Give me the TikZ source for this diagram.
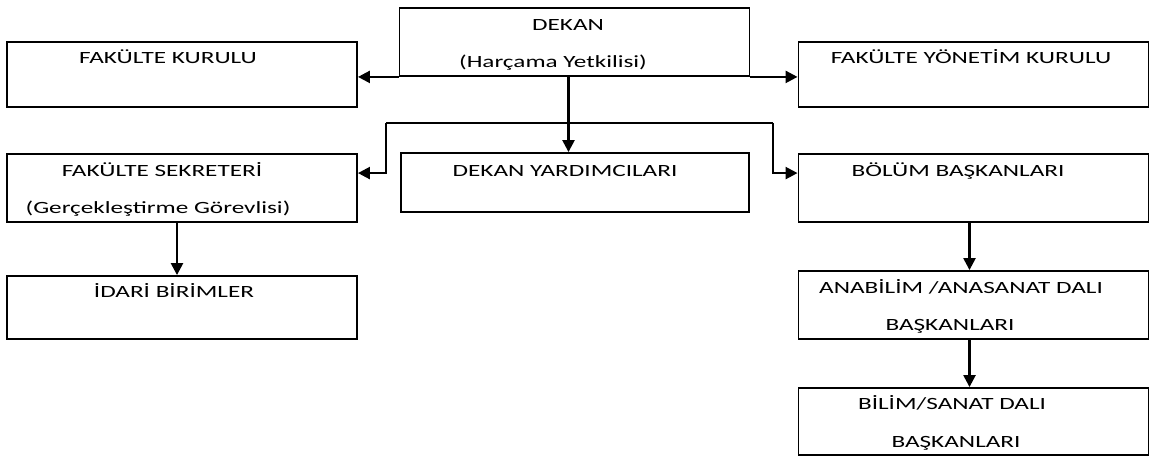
\documentclass[tikz,border=0pt]{standalone}
\usepackage{fontspec}
\setmainfont{Carlito}[FakeStretch=1.47]
\usetikzlibrary{calc, arrows.meta, positioning}

\begin{document}
\begin{tikzpicture}[x=0.025cm, y=-0.025cm,
  kutu/.style={draw, line width=1.3pt, minimum width=8.75cm, inner sep=0pt},
  yazi/.style={anchor=base, inner sep=0pt, font=\fontsize{12.2}{14}\selectfont},
  hat/.style={line width=1.7pt},
  ok/.style={hat, -{Triangle[length=0.3cm, width=0.3cm]}}]
\useasboundingbox (0,0) rectangle (1152,458);
% kutular
\node[kutu, minimum height=1.7cm]   (dekan) at (574.5,42) {};
\node[kutu, minimum height=1.625cm] (fk)    at (182,74.5) {};
\node[kutu, minimum height=1.625cm] (fyk)   at (973.5,74.5) {};
\node[kutu, minimum height=1.7cm]   (fs)    at (182,188) {};
\node[kutu, minimum height=1.475cm, minimum width=8.7cm] (dy) at (575,182.5) {};
\node[kutu, minimum height=1.7cm]   (bb)    at (973.5,188) {};
\node[kutu, minimum height=1.575cm] (ib)    at (182,307.5) {};
\node[kutu, minimum height=1.7cm]   (ab)    at (973.5,305) {};
\node[kutu, minimum height=1.675cm] (bs)    at (973.5,421.5) {};
% yazilar
\node[yazi] (dekanA) at (568,30.5) {DEKAN};
\node[yazi] (dekanB) at (553,68) {(Harçama Yetkilisi)};
\node[yazi] (fkA)    at (168,64) {FAKÜLTE KURULU};
\node[yazi] (fykA)   at (971,64) {FAKÜLTE YÖNETİM KURULU};
\node[yazi] (fsA)    at (162,176.5) {FAKÜLTE SEKRETERİ};
\node[yazi] (fsB)    at (158,214) {(Gerçekleştirme Görevlisi)};
\node[yazi] (dyA)    at (565,176.5) {DEKAN YARDIMCILARI};
\node[yazi] (bbA)    at (958,176.5) {BÖLÜM BAŞKANLARI};
\node[yazi] (ibA)    at (174,297.5) {İDARİ BİRİMLER};
\node[yazi] (abA)    at (961,293.5) {ANABİLİM /ANASANAT DALI};
\node[yazi] (abB)    at (950,330.5) {BAŞKANLARI};
\node[yazi] (bsA)    at (952,409.5) {BİLİM/SANAT DALI};
\node[yazi] (bsB)    at (956,447.5) {BAŞKANLARI};
% baglantilar
\draw[ok] (dekan.south west) -- (dekan.south west -| fk.east);
\draw[ok] (dekan.south east) -- (dekan.south east -| fyk.west);
\coordinate (ds) at ($(dekan.south)+(-6,0)$);
\draw[ok] (ds) -- (ds |- dy.north);
\coordinate (sol) at (386,123);
\coordinate (sag) at (773,123);
\draw[hat] (sol) -- (sag);
\draw[ok] (sol) |- ($(fs.north east)+(0,20)$);
\draw[ok] (sag) |- ($(bb.north west)+(0,20)$);
\draw[ok] ($(fs.south)+(-5,0)$) -- ($(ib.north)+(-5,0)$);
\draw[ok] ($(bb.south)+(-4,0)$) -- ($(ab.north)+(-4,0)$);
\draw[ok] ($(ab.south)+(-4,0)$) -- ($(bs.north)+(-4,0)$);
\end{tikzpicture}
\end{document}
